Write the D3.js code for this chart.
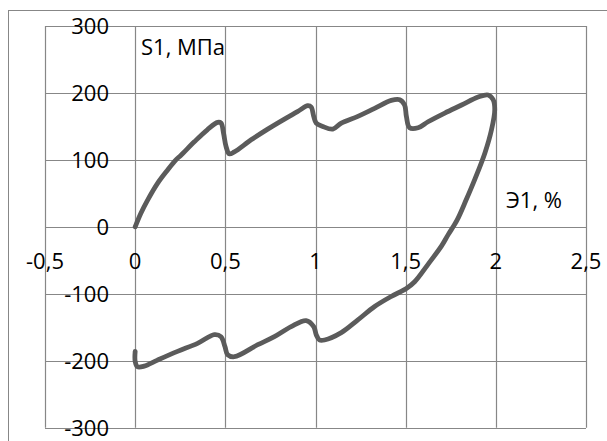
<!DOCTYPE html>
<html>
<head>
<meta charset="utf-8">
<script src="https://cdn.jsdelivr.net/npm/d3@7"></script>
<style>
  html, body { margin: 0; padding: 0; background: #fff; }
  svg { display: block; }
</style>
</head>
<body>
<div id="canvas"></div>
<script>
"use strict";

/* Data: strain (%) and stress (MPa) */
let strain = [
  0, 0.031, 0.069, 0.124, 0.18, 0.226, 0.254, 0.328, 0.40, 0.457, 0.476, 0.49, 0.504, 0.522,
  0.55, 0.643, 0.735, 0.828, 0.90, 0.957, 0.976, 0.99, 1.004, 1.04, 1.096, 1.143, 1.235,
  1.328, 1.42, 1.467, 1.494, 1.504, 1.522, 1.569, 1.624, 1.717, 1.81, 1.902, 1.957, 1.985,
  1.994, 1.976, 1.939, 1.885, 1.835, 1.785, 1.735, 1.70, 1.624, 1.55, 1.504, 1.42, 1.328,
  1.235, 1.143, 1.05, 1.022, 1.004, 0.99, 0.948, 0.865, 0.772, 0.68, 0.55, 0.513, 0.498,
  0.476, 0.439, 0.346, 0.235, 0.124, 0.05, 0.013, 0, 0
];
let stress = [
  0, 20, 40, 65, 85, 100, 107, 127, 145, 156, 155, 140, 120, 109,
  112, 130, 146, 161, 172, 181, 179, 165, 155, 150, 146, 155, 165,
  177, 189, 190, 182, 165, 148, 148, 157, 170, 182, 194, 197, 190,
  175, 145, 110, 72, 40, 10, -12, -28, -56, -82, -92, -104, -119,
  -139, -158, -169, -169, -161, -149, -140, -149, -164, -176, -194, -191, -179,
  -164, -161, -174, -186, -199, -208, -209, -201, -186
];

let xTicks = [-0.5, 0, 0.5, 1, 1.5, 2, 2.5];
let yTicks = [-300, -200, -100, 0, 100, 200, 300];
let xTitle = "Э1, %";
let yTitle = "S1, МПа";

/* SVG setup */
let svgWidth = 607;
let svgHeight = 441;
let fontFamily = "'Open Sans', 'Liberation Sans', sans-serif";
let gridColor = "#878787";

let svg = d3.select("#canvas")
  .append("svg")
  .attr("width", svgWidth)
  .attr("height", svgHeight);

/* Outer chart border (right and bottom edges run off the picture) */
svg.append("rect")
  .attr("x", 8.5)
  .attr("y", 10.5)
  .attr("width", 700)
  .attr("height", 500)
  .attr("fill", "none")
  .attr("stroke", gridColor)
  .attr("stroke-width", 1);

/* Scales */
let xScale = d3.scaleLinear().domain([-0.5, 2.5]).range([45, 586]);
let yScale = d3.scaleLinear().domain([-300, 300]).range([427.7, 26]);

let locale = d3.formatLocale({ decimal: ",", thousands: " ", grouping: [3], currency: ["", ""], minus: "-" });
let fmt = locale.format("~g");

/* Grid */
let grid = svg.append("g");
grid.selectAll(".vx")
  .data(xTicks)
  .join("line")
  .attr("x1", d => Math.round(xScale(d)) + 0.5)
  .attr("x2", d => Math.round(xScale(d)) + 0.5)
  .attr("y1", yScale(300))
  .attr("y2", yScale(-300))
  .attr("stroke", gridColor)
  .attr("stroke-width", 1.2);

grid.selectAll(".hy")
  .data(yTicks)
  .join("line")
  .attr("x1", xScale(-0.5))
  .attr("x2", xScale(2.5))
  .attr("y1", d => Math.round(yScale(d)) + 0.5)
  .attr("y2", d => Math.round(yScale(d)) + 0.5)
  .attr("stroke", gridColor)
  .attr("stroke-width", 1.2);

/* Y tick labels */
svg.append("g")
  .selectAll("text")
  .data(yTicks)
  .join("text")
  .attr("x", 109)
  .attr("y", d => yScale(d) + 8)
  .attr("text-anchor", "end")
  .style("font-family", fontFamily)
  .style("font-size", "22px")
  .attr("fill", "#000")
  .text(d => fmt(d));

/* X tick labels */
svg.append("g")
  .selectAll("text")
  .data(xTicks)
  .join("text")
  .attr("x", d => xScale(d))
  .attr("y", 269)
  .attr("text-anchor", "middle")
  .style("font-family", fontFamily)
  .style("font-size", "22px")
  .attr("fill", "#000")
  .text(d => fmt(d));

/* Curve */
let points = strain.map((s, i) => [s, stress[i]]);
let line = d3.line()
  .x(d => xScale(d[0]))
  .y(d => yScale(d[1]))
  .curve(d3.curveCatmullRom.alpha(0.5));

svg.append("path")
  .datum(points)
  .attr("d", line)
  .attr("fill", "none")
  .attr("stroke", "#5b5b5b")
  .attr("stroke-width", 4.8)
  .attr("stroke-linejoin", "round")
  .attr("stroke-linecap", "round");

/* Axis titles */
svg.append("text")
  .attr("x", 141)
  .attr("y", 55)
  .style("font-family", fontFamily)
  .style("font-size", "22px")
  .attr("fill", "#000")
  .text(yTitle);

svg.append("text")
  .attr("x", 506)
  .attr("y", 208)
  .style("font-family", fontFamily)
  .style("font-size", "22px")
  .attr("fill", "#000")
  .text(xTitle);
</script>
</body>
</html>
